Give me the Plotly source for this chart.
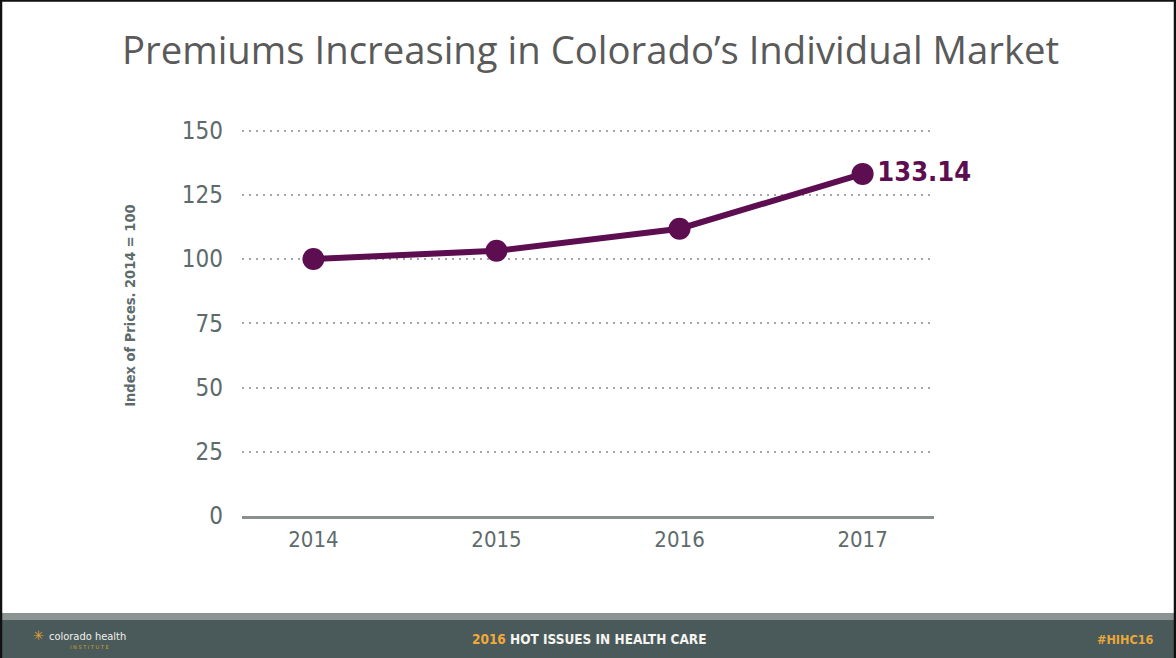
import plotly.graph_objects as go

# Index of individual-market premium prices, 2014 = 100
years = ["2014", "2015", "2016", "2017"]
index_values = [100.0, 103.2, 111.8, 133.14]
y_ticks = [0, 25, 50, 75, 100, 125, 150]

W, H = 1176, 658
Y_MAX = 151.0
L, R, B = 242, 934, 516            # plot area edges in pixels
T = B - 385 * Y_MAX / 150          # keeps 150 at 131 px

PLUM = "#5d0e50"
SLATE = "#5e6b6b"
NARROW = "Liberation Sans Narrow, DejaVu Sans Condensed, Arial Narrow, sans-serif"


def px_x(x):
    return (x - L) / (R - L)


def px_y(y):
    return (B - y) / (B - T)


labels = [f"{v:.2f}" if i == len(index_values) - 1 else "" for i, v in enumerate(index_values)]

fig = go.Figure()
fig.add_trace(go.Scatter(
    x=years,
    y=index_values,
    mode="lines+markers+text",
    line=dict(color=PLUM, width=6),
    marker=dict(color=PLUM, size=22),
    text=labels,
    textposition="middle right",
    textfont=dict(family=NARROW, size=27, color=PLUM, weight="bold"),
    cliponaxis=False,
    hoverinfo="skip",
))

shapes = [
    # footer band
    dict(type="rect", xref="paper", yref="paper", layer="below",
         x0=px_x(0), x1=px_x(W), y0=px_y(620), y1=px_y(H),
         fillcolor="#4a5a5a", line=dict(width=0)),
    dict(type="rect", xref="paper", yref="paper", layer="below",
         x0=px_x(0), x1=px_x(W), y0=px_y(613), y1=px_y(620),
         fillcolor="#8b9393", line=dict(width=0)),
    # frame
    dict(type="rect", xref="paper", yref="paper", layer="above",
         x0=px_x(1), x1=px_x(W - 1), y0=px_y(1), y1=px_y(H + 2),
         fillcolor="rgba(0,0,0,0)", line=dict(color="#111111", width=2.5)),
]

annotations = [
    dict(text="Premiums Increasing in Colorado’s Individual Market",
         x=px_x(590), y=px_y(50), xref="paper", yref="paper",
         showarrow=False, xanchor="center", yanchor="middle",
         font=dict(family="Open Sans, sans-serif", size=38.3, color="#5a5a5a")),
    dict(text="Index of Prices. 2014 = 100",
         x=px_x(130), y=px_y(306), xref="paper", yref="paper",
         showarrow=False, textangle=-90, xanchor="center", yanchor="middle",
         font=dict(family=NARROW, size=14.5, color=SLATE, weight="bold")),
    dict(text="<span style='color:#f2a93b'>2016</span> HOT ISSUES IN HEALTH CARE",
         x=px_x(589), y=px_y(639), xref="paper", yref="paper",
         showarrow=False, xanchor="center", yanchor="middle",
         font=dict(family=NARROW, size=13.5, color="#f4f4f0", weight="bold")),
    dict(text="#HIHC16",
         x=px_x(1156), y=px_y(639), xref="paper", yref="paper",
         showarrow=False, xanchor="right", yanchor="middle",
         font=dict(family=NARROW, size=12.5, color="#e9a83a", weight="bold")),
    dict(text="colorado health",
         x=px_x(47), y=px_y(636), xref="paper", yref="paper",
         showarrow=False, xanchor="left", yanchor="middle",
         font=dict(family="DejaVu Sans Condensed, sans-serif", size=11, color="#f0f0ea")),
    dict(text="I N S T I T U T E",
         x=px_x(68), y=px_y(647), xref="paper", yref="paper",
         showarrow=False, xanchor="left", yanchor="middle",
         font=dict(family="DejaVu Sans, sans-serif", size=5, color="#c9a12e")),
    dict(text="✳",
         x=px_x(38), y=px_y(635), xref="paper", yref="paper",
         showarrow=False, xanchor="center", yanchor="middle",
         font=dict(family="DejaVu Sans, sans-serif", size=13, color="#e3a22f")),
]

fig.update_layout(
    width=W, height=H,
    margin=dict(l=L, r=W - R, t=T, b=H - B, pad=0),
    paper_bgcolor="white",
    plot_bgcolor="white",
    showlegend=False,
    shapes=shapes,
    annotations=annotations,
    xaxis=dict(
        type="category",
        range=[-0.39, 3.39],
        showgrid=False,
        showline=True, linecolor="#8a8f8f", linewidth=2.5,
        ticks="", ticklabelstandoff=2,
        tickfont=dict(family=NARROW, size=22, color=SLATE),
        zeroline=False, fixedrange=True,
    ),
    yaxis=dict(
        range=[0, Y_MAX],
        tickvals=y_ticks,
        showgrid=True, gridcolor="#a6a6a6", gridwidth=1.6, griddash="2px,5px",
        showline=False, zeroline=False,
        ticks="", ticklabelstandoff=18,
        tickfont=dict(family=NARROW, size=24, color=SLATE),
        fixedrange=True,
    ),
)

fig.write_html("out.html", config=dict(displayModeBar=False))
